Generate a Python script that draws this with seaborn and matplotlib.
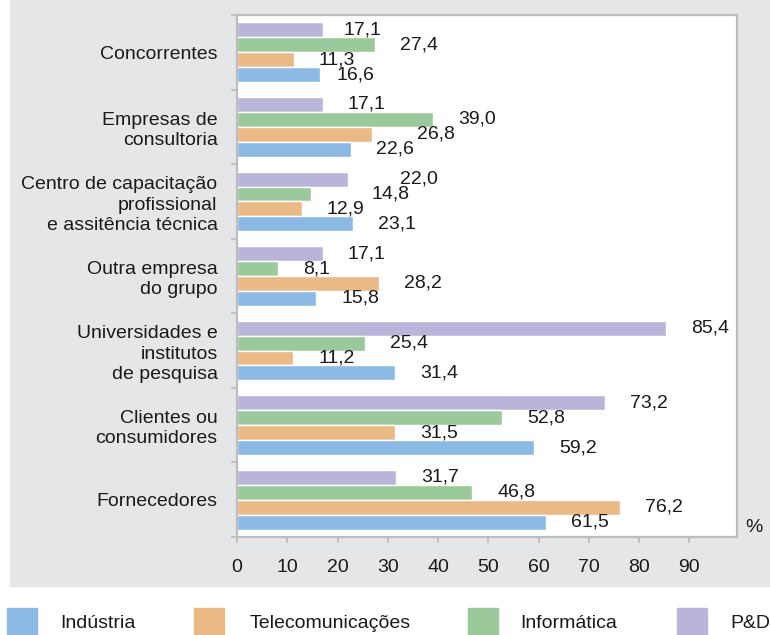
import numpy as np
import pandas as pd
import seaborn as sns
import matplotlib.pyplot as plt
from matplotlib.patches import Rectangle

# Fontes de informação para inovação (%), por setor
fontes = ['Concorrentes',
          'Empresas de\nconsultoria',
          'Centro de capacitação\nprofissional\ne assitência técnica',
          'Outra empresa\ndo grupo',
          'Universidades e\ninstitutos\nde pesquisa',
          'Clientes ou\nconsumidores',
          'Fornecedores']
setores = ['Indústria', 'Telecomunicações', 'Informática', 'P&D']
industria = [16.6, 22.6, 23.1, 15.8, 31.4, 59.2, 61.5]
telecom = [11.3, 26.8, 12.9, 28.2, 11.2, 31.5, 76.2]
informatica = [27.4, 39.0, 14.8, 8.1, 25.4, 52.8, 46.8]
ped = [17.1, 17.1, 22.0, 17.1, 85.4, 73.2, 31.7]
cores = ['#8CBAE5', '#EBB985', '#9BC99B', '#B9B4DA']

df = pd.DataFrame({
    'fonte': fontes * 4,
    'setor': np.repeat(setores, len(fontes)),
    'valor': industria + telecom + informatica + ped,
})

sns.set_theme(style='white')
plt.rcParams['font.family'] = ['Liberation Sans', 'DejaVu Sans']
texto = '#1a1a1a'
cinza = '#bdbdbd'
fs = 14

fig = plt.figure(figsize=(7.7, 6.35), dpi=100)
fig.patch.set_facecolor('white')
# grey panel behind the chart
fig.patches.append(Rectangle((10 / 770, 1 - 586 / 635), 760 / 770, 586 / 635,
                             transform=fig.transFigure, color='#E5E6E8', zorder=-5))

ax = fig.add_axes([237 / 770, 1 - 537 / 635, 500 / 770, 522 / 635])
ordem = setores[::-1]  # P&D on top of each group
paleta = dict(zip(setores, cores))
sns.barplot(data=df, y='fonte', x='valor', hue='setor', hue_order=ordem,
            order=fontes, palette=paleta, orient='h', width=0.8,
            saturation=1, legend=False, ax=ax)

ax.set_xlim(0, 99.5)
ax.set_xticks(range(0, 100, 10))
ax.set_xlabel('')
ax.set_ylabel('')
ax.set_facecolor('white')
for s in ax.spines.values():
    s.set_visible(True)
    s.set_color(cinza)
    s.set_linewidth(1.6)

ax.tick_params(axis='x', length=4, width=1.2, color=cinza, pad=12,
               labelsize=fs, labelcolor=texto, bottom=True)
ax.tick_params(axis='y', length=0, pad=14, labelsize=fs, labelcolor=texto)
for lbl in ax.get_yticklabels():
    lbl.set_linespacing(1.25)
# ticks on group boundaries
ax.set_yticks(np.arange(-0.5, len(fontes), 1), minor=True)
ax.tick_params(axis='y', which='minor', length=4, width=1.2, color=cinza, left=True)

# extra shift (px) for a few labels the original moved to avoid overlaps
ajuste = {('Empresas de\nconsultoria', 'Telecomunicações'): 20,
          (fontes[2], 'Informática'): 35,
          (fontes[2], 'P&D'): 27,
          ('Concorrentes', 'P&D'): -4,
          ('Concorrentes', 'Indústria'): -9}

for cont, setor in zip(ax.containers, ordem):
    for bar, fonte in zip(cont, fontes):
        v = bar.get_width()
        y = bar.get_y() + bar.get_height() / 2
        dx = (25 + ajuste.get((fonte, setor), 0)) * 0.72
        ax.annotate(f'{v:.1f}'.replace('.', ','), xy=(v, y), xytext=(dx, 0),
                    textcoords='offset points', ha='left', va='center',
                    fontsize=fs, color=texto)

fig.text(754 / 770, 1 - 527 / 635, '%', ha='center', va='center',
         fontsize=fs, color=texto)

# legend along the bottom
leg_x = [7, 194, 468, 677]
txt_x = [60, 250, 520, 730]
for cor, nome, px, tx in zip(cores, setores, leg_x, txt_x):
    fig.patches.append(Rectangle((px / 770, 1 - 638 / 635), 30 / 770, 30 / 635,
                                 transform=fig.transFigure, color=cor))
    fig.text(tx / 770, 1 - 623 / 635, nome, ha='left', va='center',
             fontsize=fs, color=texto)

fig.savefig('out.png', dpi=100)
